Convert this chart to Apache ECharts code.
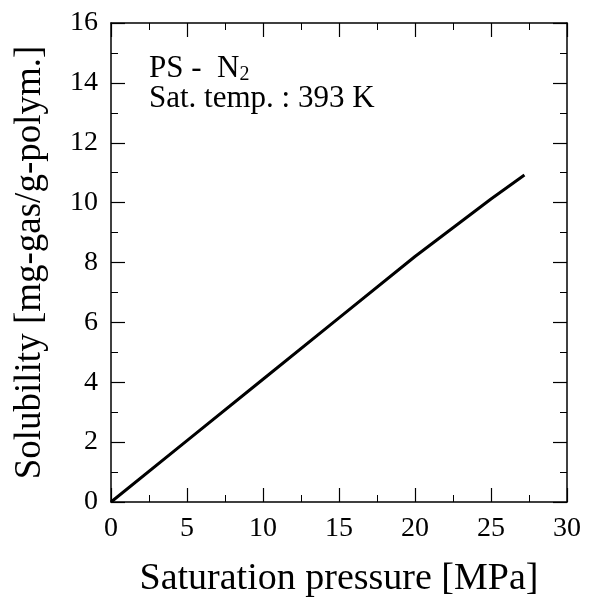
<!DOCTYPE html>
<html><head><meta charset="utf-8">
<script src="https://cdn.jsdelivr.net/npm/echarts@6/dist/echarts.min.js"></script>
<style>html,body{margin:0;padding:0;background:#fff}#c{width:615px;height:597px}</style>
</head><body><div id="c"></div>
<script>
const pressure = [0, 5, 10, 15, 20, 25, 27.2];
const solubility = [0, 2.05, 4.1, 6.15, 8.2, 10.12, 10.92];
const xTicks = [0, 5, 10, 15, 20, 25, 30];
const yTicks = [0, 2, 4, 6, 8, 10, 12, 14, 16];
const xTitle = 'Saturation pressure [MPa]';
const yTitle = 'Solubility [mg-gas/g-polym.]';

const font = 'Liberation Serif';
const chart = echarts.init(document.getElementById('c'));
const axisCommon = {
  axisLine: {show: true, onZero: false, lineStyle: {color: '#000', width: 1.5}},
  axisTick: {show: true, inside: true, length: 14, lineStyle: {color: '#000', width: 1.2}},
  minorTick: {show: true, splitNumber: 2, length: 7, lineStyle: {color: '#000', width: 1}},
  splitLine: {show: false}
};
chart.setOption({
  animation: false,
  grid: {left: 111, right: 48, top: 23, bottom: 95, containLabel: false, outerBoundsMode: 'none'},
  xAxis: [
    Object.assign({type: 'value', min: xTicks[0], max: xTicks[xTicks.length - 1], interval: 5, position: 'bottom',
      name: xTitle, nameLocation: 'middle', nameGap: 58,
      nameTextStyle: {fontFamily: font, fontSize: 38, color: '#000'},
      axisLabel: {fontFamily: font, fontSize: 28, color: '#000', margin: 13}}, axisCommon),
    Object.assign({type: 'value', min: xTicks[0], max: xTicks[xTicks.length - 1], interval: 5, position: 'top',
      axisLabel: {show: false}}, axisCommon)
  ],
  yAxis: [
    Object.assign({type: 'value', min: yTicks[0], max: yTicks[yTicks.length - 1], interval: 2, position: 'left',
      name: yTitle, nameLocation: 'middle', nameGap: 62,
      nameTextStyle: {fontFamily: font, fontSize: 37, color: '#000'},
      axisLabel: {fontFamily: font, fontSize: 28, color: '#000', margin: 13}}, axisCommon),
    Object.assign({type: 'value', min: yTicks[0], max: yTicks[yTicks.length - 1], interval: 2, position: 'right',
      axisLabel: {show: false}}, axisCommon)
  ],
  series: [{
    type: 'line', xAxisIndex: 0, yAxisIndex: 0, showSymbol: false, smooth: false,
    data: pressure.map((p, i) => [p, solubility[i]]),
    lineStyle: {color: '#000', width: 3}
  }],
  graphic: [{
    type: 'text', left: 149, top: 53,
    style: {
      text: '{a|PS -  N}{s|2}\n{a|Sat. temp. : 393 K}',
      rich: {
        a: {fontFamily: font, fontSize: 31, fill: '#000', lineHeight: 30},
        s: {fontFamily: font, fontSize: 20, fill: '#000', padding: [12, 0, 0, 0], lineHeight: 30}
      }
    }
  }]
});
</script></body></html>
